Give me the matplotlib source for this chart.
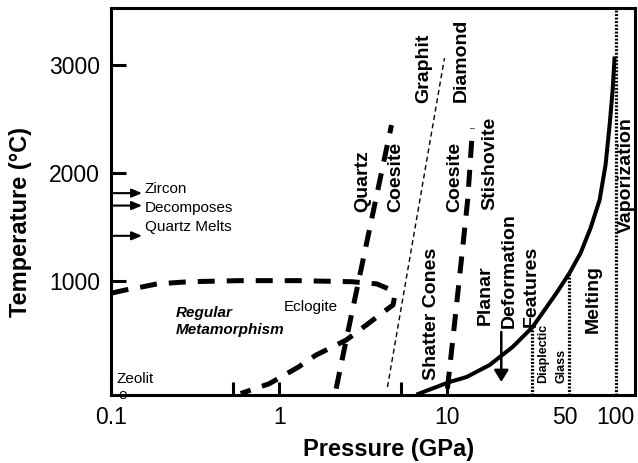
import matplotlib.pyplot as plt
import numpy as np

plt.rcParams['font.family'] = ['Liberation Sans', 'DejaVu Sans']

# pressure (GPa) / temperature (deg C) boundaries
meta_p = [0.101, 0.123, 0.151, 0.188, 0.29, 0.58, 1.3, 2.7, 3.8, 4.45, 4.85, 4.75, 4.25, 3.3, 2.5, 1.65, 1.3, 0.87, 0.59]
meta_t = [885, 915, 940, 970, 990, 1000, 1000, 990, 970, 925, 850, 775, 720, 590, 450, 310, 200, 45, -45]

qtz_coe_p = [2.18, 2.5, 4.65]
qtz_coe_t = [0, 450, 2440]

gra_dia_p = [4.4, 9.6]
gra_dia_t = [15, 3060]

coe_sti_p = [10.0, 11.0, 12.1, 13.2, 14.1]
coe_sti_t = [0, 590, 1190, 1750, 2410]

shock_p = [6.54, 10.3, 13.0, 17.8, 24.4, 32.1, 44.5, 53.2, 61.9, 71.0, 80.3, 87.1, 92.1, 96.0, 98.6]
shock_t = [-55, 62, 108, 219, 386, 571, 886, 1071, 1256, 1488, 1747, 2071, 2442, 2766, 3075]

# dotted stage boundaries: diaplectic glass, melting, vaporization
stage_p = [32, 52.5, 100]

# marker arrows on the temperature axis
arrow_t = [1810, 1695, 1415]

xticks = [0.1, 0.53, 1, 5.3, 10, 50, 100]
xtick_labels = ['0.1', '', '1', '', '10', '50', '100']
yticks = [1000, 2000, 3000]

# rotated field labels
vlabels = ['Quartz', 'Coesite', 'Graphit', 'Diamond', 'Coesite', 'Stishovite',
           'Shatter Cones', 'Planar', 'Deformation', 'Features', 'Melting', 'Vaporization']
vlabel_p = [3.12, 4.9, 7.2, 12.1, 11.0, 17.8, 8.0, 16.8, 23.4, 31.6, 74, 116]
vlabel_t = [1636, 1636, 2645, 2655, 1636, 1655, 80, 590, 562, 571, 516, 1442]

small_labels = ['Diaplectic', 'Glass']
small_p = [37.3, 47.7]
small_t = [53, 53]

fig = plt.figure(figsize=(6.38, 4.63), dpi=100)
ax = fig.add_axes([0.174, 0.147, 0.821, 0.836])
ax.set_xscale('log')
ax.set_xlim(0.1, 130)
ax.set_ylim(-58, 3525)

thick = dict(color='black', lw=3.6, dashes=(3.4, 2.4))
ax.plot(meta_p, meta_t, **thick)
ax.plot(qtz_coe_p, qtz_coe_t, **thick)
ax.plot(coe_sti_p, coe_sti_t, **thick)
ax.plot(gra_dia_p, gra_dia_t, color='black', lw=1.0, dashes=(3.6, 2.5))
ax.plot(shock_p, shock_t, color='black', lw=2.9, solid_capstyle='butt')

# dotted verticals run from the floor up to the shock curve
tops = np.interp(np.log10(stage_p[:2]), np.log10(shock_p), shock_t)
for p, top in zip(stage_p[:2], tops):
    ax.plot([p, p], [-58, top], color='black', lw=2.3, dashes=(0.6, 0.5))
ax.plot([stage_p[2]] * 2, [-58, 3525], color='black', lw=2.3, dashes=(0.6, 0.5))

for t in arrow_t:
    ax.annotate('', xy=(0.153, t), xytext=(0.1, t),
                arrowprops=dict(arrowstyle='-|>,head_length=0.6,head_width=0.25',
                                color='black', lw=1.5, shrinkA=0, shrinkB=0,
                                mutation_scale=10))
ax.annotate('', xy=(20.9, 62), xytext=(20.9, 525),
            arrowprops=dict(arrowstyle='-|>,head_length=0.7,head_width=0.43',
                            color='black', lw=1.8, shrinkA=0, shrinkB=0,
                            mutation_scale=10))

ax.text(0.159, 1809, 'Zircon', fontsize=11, va='baseline')
ax.text(0.159, 1639, 'Decomposes', fontsize=11, va='baseline')
ax.text(0.159, 1463, 'Quartz Melts', fontsize=11, va='baseline')
ax.text(0.244, 663, 'Regular', fontsize=11, fontweight='bold', style='italic', va='baseline')
ax.text(0.244, 506, 'Metamorphism', fontsize=11, fontweight='bold', style='italic', va='baseline')
ax.text(1.07, 718, 'Eclogite', fontsize=11, va='baseline')
ax.text(0.108, 53, 'Zeolit', fontsize=11, va='baseline')
ax.text(0.111, -95, 'e', fontsize=11, va='baseline', zorder=1)

for s, p, t in zip(vlabels, vlabel_p, vlabel_t):
    ax.text(p, t, s, rotation=90, fontsize=14, fontweight='bold', ha='center', va='bottom')
for s, p, t in zip(small_labels, small_p, small_t):
    ax.text(p, t, s, rotation=90, fontsize=9, fontweight='bold', ha='center', va='bottom')

ax.set_xticks(xticks)
ax.set_xticklabels(xtick_labels)
ax.xaxis.set_minor_locator(plt.NullLocator())
ax.set_yticks(yticks)
for tk in ax.xaxis.get_major_ticks()[-2:]:
    tk.tick1line.set_visible(False)
ax.tick_params(axis='x', direction='in', length=9.5, width=2.2, pad=8, labelsize=16.5)
ax.tick_params(axis='y', direction='in', length=11, width=2.2, pad=8, labelsize=16.5)
for sp in ax.spines.values():
    sp.set_linewidth(2.2)

ax.set_xlabel('Pressure (GPa)', fontsize=17, fontweight='bold')
ax.set_ylabel('Temperature (°C)', fontsize=17, fontweight='bold')
ax.xaxis.set_label_coords(0.529, -0.111)
ax.yaxis.set_label_coords(-0.15, 0.447)

fig.savefig('out.png', dpi=100)
